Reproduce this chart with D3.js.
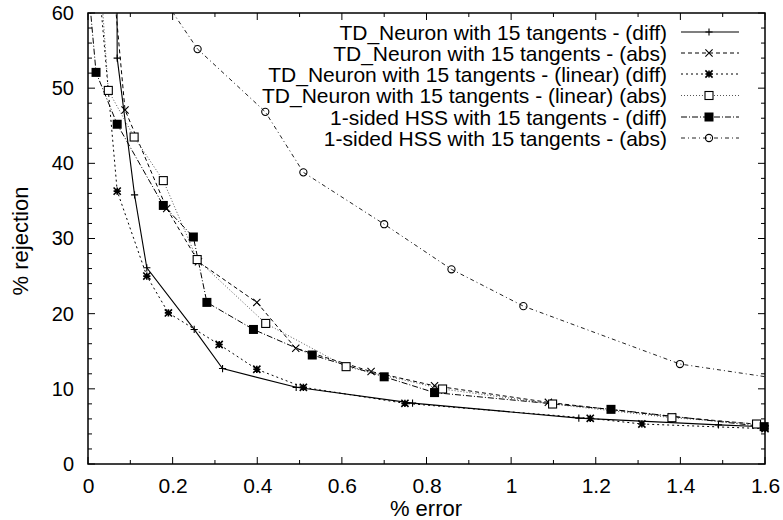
<!DOCTYPE html>
<html><head><meta charset="utf-8">
<script src="https://cdn.jsdelivr.net/npm/d3@7"></script>
<style>
body{margin:0;background:#fff;}
svg{display:block;font-family:"Liberation Sans",Arial,Helvetica,sans-serif;}
</style></head>
<body><svg id="c" width="783" height="520"></svg>
<script>
// ---- data ----
const xMajorTicks = [0, 0.2, 0.4, 0.6, 0.8, 1, 1.2, 1.4, 1.6];
const xTickLabels = ["0", "0.2", "0.4", "0.6", "0.8", "1", "1.2", "1.4", "1.6"];
const yMajorTicks = [0, 10, 20, 30, 40, 50, 60];
const yTickLabels = ["0", "10", "20", "30", "40", "50", "60"];

const seriesNames = [
  "TD_Neuron with 15 tangents - (diff)",
  "TD_Neuron with 15 tangents - (abs)",
  "TD_Neuron with 15 tangents - (linear) (diff)",
  "TD_Neuron with 15 tangents - (linear) (abs)",
  "1-sided HSS with 15 tangents - (diff)",
  "1-sided HSS with 15 tangents - (abs)"
];

const tdDiffX = [0.068, 0.069, 0.110, 0.139, 0.251, 0.318, 0.492, 0.767, 1.160, 1.490, 1.600];
const tdDiffY = [70, 54.0, 35.8, 26.1, 17.9, 12.7, 10.2, 8.1, 6.1, 5.2, 4.95];

const tdAbsX = [0.050, 0.0875, 0.186, 0.261, 0.399, 0.491, 0.669, 0.819, 1.088, 1.380, 1.580];
const tdAbsY = [70, 47.1, 34.0, 26.9, 21.5, 15.4, 12.3, 10.4, 8.2, 6.3, 5.3];

const tdLinDiffX = [0.024, 0.069, 0.139, 0.190, 0.310, 0.399, 0.509, 0.749, 1.187, 1.309, 1.600];
const tdLinDiffY = [65, 36.3, 25.0, 20.1, 15.9, 12.6, 10.2, 8.07, 6.08, 5.32, 4.7];

const tdLinAbsX = [0.029, 0.048, 0.109, 0.178, 0.258, 0.420, 0.610, 0.838, 1.098, 1.380, 1.580];
const tdLinAbsY = [65, 49.7, 43.5, 37.7, 27.2, 18.7, 12.95, 9.98, 7.98, 6.16, 5.32];

const hssDiffX = [0.0, 0.019, 0.069, 0.178, 0.249, 0.281, 0.391, 0.530, 0.700, 0.819, 1.236, 1.598];
const hssDiffY = [64, 52.1, 45.2, 34.4, 30.2, 21.5, 17.9, 14.5, 11.6, 9.5, 7.27, 4.97];

const hssAbsX = [0.141, 0.259, 0.419, 0.509, 0.700, 0.859, 1.029, 1.399, 1.65];
const hssAbsY = [65, 55.2, 46.85, 38.8, 31.9, 25.9, 21.0, 13.3, 11.2];

// ---- layout ----
const L = 88, R = 765, T = 13, B = 464;
const svg = d3.select("#c");
const x = d3.scaleLinear().domain([0, 1.6]).range([L, R]);
const y = d3.scaleLinear().domain([0, 60]).range([B, T]);

const styles = [
  {dash: null, color: "#000", w: 1.1, marker: "plus"},
  {dash: "4,3", color: "#000", w: 1.0, marker: "cross"},
  {dash: "2,3", color: "#000", w: 1.0, marker: "star"},
  {dash: "1,2", color: "#555", w: 1.0, marker: "square"},
  {dash: "6,2,1,2", color: "#000", w: 1.0, marker: "fsquare"},
  {dash: "4,3,1,3", color: "#222", w: 1.0, marker: "circle"}
];
const allX = [tdDiffX, tdAbsX, tdLinDiffX, tdLinAbsX, hssDiffX, hssAbsX];
const allY = [tdDiffY, tdAbsY, tdLinDiffY, tdLinAbsY, hssDiffY, hssAbsY];

svg.append("defs").append("clipPath").attr("id", "clip")
  .append("rect").attr("x", L).attr("y", T).attr("width", R - L).attr("height", B - T);

// ---- axes (ticks inward on all four sides) ----
const xMinor = d3.range(0, 1.61, 0.1);
const yMinor = d3.range(0, 61, 2);
const tickG = svg.append("g").attr("stroke", "#000").attr("stroke-width", 1);
xMinor.forEach(v => {
  const maj = xMajorTicks.some(m => Math.abs(m - v) < 1e-6);
  const len = maj ? 7 : 4;
  tickG.append("line").attr("x1", x(v)).attr("x2", x(v)).attr("y1", B).attr("y2", B - len);
  tickG.append("line").attr("x1", x(v)).attr("x2", x(v)).attr("y1", T).attr("y2", T + len);
});
yMinor.forEach(v => {
  const maj = yMajorTicks.includes(v);
  const len = maj ? 7 : 4;
  tickG.append("line").attr("y1", y(v)).attr("y2", y(v)).attr("x1", L).attr("x2", L + len);
  tickG.append("line").attr("y1", y(v)).attr("y2", y(v)).attr("x1", R).attr("x2", R - len);
});

const xAxis = d3.axisBottom(x).tickValues(xMajorTicks)
  .tickFormat((d, i) => xTickLabels[i]).tickSize(0).tickPadding(14);
const gx = svg.append("g").attr("transform", `translate(0,${B})`).call(xAxis);
gx.select(".domain").remove();
gx.selectAll("text").attr("font-size", 21).attr("font-family", "Liberation Sans, Arial, sans-serif").attr("fill", "#000");

const yAxis = d3.axisLeft(y).tickValues(yMajorTicks)
  .tickFormat((d, i) => yTickLabels[i]).tickSize(0).tickPadding(14);
const gy = svg.append("g").attr("transform", `translate(${L},0)`).call(yAxis);
gy.select(".domain").remove();
gy.selectAll("text").attr("font-size", 20).attr("font-family", "Liberation Sans, Arial, sans-serif").attr("fill", "#000");

svg.append("rect").attr("x", L).attr("y", T).attr("width", R - L).attr("height", B - T)
  .attr("fill", "none").attr("stroke", "#000").attr("stroke-width", 1.5);

svg.append("text").attr("x", 426).attr("y", 516).attr("text-anchor", "middle")
  .attr("font-size", 22).text("% error");
svg.append("text").attr("transform", "translate(28,241) rotate(-90)").attr("text-anchor", "middle")
  .attr("font-size", 22).text("% rejection");

// ---- markers ----
function drawMarker(g, type, cx, cy, color) {
  const s = 3.6;
  if (type === "plus") {
    g.append("path").attr("d", `M${cx - s},${cy}H${cx + s}M${cx},${cy - s}V${cy + s}`)
      .attr("stroke", color).attr("stroke-width", 1.1).attr("fill", "none");
  } else if (type === "cross") {
    g.append("path").attr("d", `M${cx - s},${cy - s}L${cx + s},${cy + s}M${cx - s},${cy + s}L${cx + s},${cy - s}`)
      .attr("stroke", color).attr("stroke-width", 1.1).attr("fill", "none");
  } else if (type === "star") {
    g.append("path").attr("d", `M${cx - s},${cy}H${cx + s}M${cx},${cy - s}V${cy + s}M${cx - s},${cy - s}L${cx + s},${cy + s}M${cx - s},${cy + s}L${cx + s},${cy - s}`)
      .attr("stroke", "#000").attr("stroke-width", 1.6).attr("fill", "none");
  } else if (type === "square") {
    g.append("rect").attr("x", cx - 4).attr("y", cy - 4).attr("width", 8).attr("height", 8)
      .attr("fill", "#fff").attr("stroke", "#000").attr("stroke-width", 1.1);
  } else if (type === "fsquare") {
    g.append("rect").attr("x", cx - 4.5).attr("y", cy - 4.5).attr("width", 9).attr("height", 9)
      .attr("fill", "#000");
  } else if (type === "circle") {
    g.append("circle").attr("cx", cx).attr("cy", cy).attr("r", 3.6)
      .attr("fill", "none").attr("stroke", "#000").attr("stroke-width", 1.1);
  }
}

// ---- series ----
const plot = svg.append("g").attr("clip-path", "url(#clip)");
const line = d3.line().x(d => x(d[0])).y(d => y(d[1]));
allX.forEach((xs, i) => {
  const pts = xs.map((v, j) => [v, allY[i][j]]);
  const st = styles[i];
  plot.append("path").datum(pts).attr("d", line).attr("fill", "none")
    .attr("stroke", st.color).attr("stroke-width", st.w)
    .attr("stroke-dasharray", st.dash);
});
allX.forEach((xs, i) => {
  const st = styles[i];
  xs.forEach((v, j) => {
    const yy = allY[i][j];
    if (yy <= 60 && v <= 1.6) drawMarker(svg, st.marker, x(v), y(yy), st.color);
  });
});

// ---- legend ----
const legRows = [32, 53, 74, 95.5, 117, 138];
seriesNames.forEach((name, i) => {
  const st = styles[i];
  const ry = legRows[i];
  svg.append("text").attr("x", 667).attr("y", ry).attr("dy", "0.36em")
    .attr("text-anchor", "end").attr("font-size", 21).text(name);
  svg.append("line").attr("x1", 681).attr("x2", 739).attr("y1", ry).attr("y2", ry)
    .attr("stroke", st.color).attr("stroke-width", st.w).attr("stroke-dasharray", st.dash);
  drawMarker(svg, st.marker, 709, ry, st.color);
});
</script></body></html>
